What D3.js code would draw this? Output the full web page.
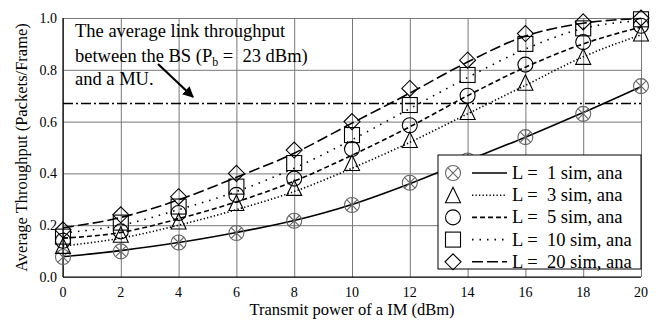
<!DOCTYPE html>
<html>
<head>
<meta charset="utf-8">
<script src="https://cdn.jsdelivr.net/npm/d3@7"></script>
</head>
<body style="margin:0; background:#fff">
<div id="chart"></div>
<script>
// transmit power of the IM (dBm)
const power = [0, 2, 4, 6, 8, 10, 12, 14, 16, 18, 20];
const yTicks = [0, 0.2, 0.4, 0.6, 0.8, 1.0];
const bsLevel = 0.67;

// simulated throughput (markers)
const simL1 = [0.077, 0.099, 0.133, 0.17, 0.217, 0.278, 0.364, 0.45, 0.54, 0.63, 0.737];
const simL3 = [0.12, 0.163, 0.214, 0.286, 0.344, 0.44, 0.529, 0.637, 0.75, 0.85, 0.94];
const simL5 = [0.14, 0.176, 0.247, 0.317, 0.38, 0.494, 0.586, 0.70, 0.82, 0.907, 0.97];
const simL10 = [0.156, 0.21, 0.272, 0.349, 0.44, 0.548, 0.664, 0.78, 0.90, 0.96, 0.995];
const simL20 = [0.182, 0.24, 0.31, 0.40, 0.49, 0.60, 0.728, 0.837, 0.94, 0.985, 1.0];

// analytical throughput (lines)
const anaL1 = [0.078, 0.102, 0.133, 0.172, 0.218, 0.28, 0.36, 0.45, 0.54, 0.635, 0.735];
const anaL3 = [0.12, 0.15, 0.2, 0.26, 0.33, 0.42, 0.52, 0.63, 0.74, 0.85, 0.935];
const anaL5 = [0.15, 0.172, 0.225, 0.29, 0.37, 0.47, 0.58, 0.70, 0.81, 0.90, 0.965];
const anaL10 = [0.17, 0.2, 0.26, 0.33, 0.42, 0.53, 0.65, 0.77, 0.88, 0.96, 0.99];
const anaL20 = [0.19, 0.23, 0.298, 0.385, 0.478, 0.594, 0.71, 0.83, 0.93, 0.98, 0.998];

const labels = ['1', '3', '5', '10', '20'];

const series = [
  { sim: simL1, ana: anaL1, marker: 'ox', dash: null },
  { sim: simL3, ana: anaL3, marker: 'tri', dash: '1.3,2.2' },
  { sim: simL5, ana: anaL5, marker: 'circ', dash: '5,3' },
  { sim: simL10, ana: anaL10, marker: 'sq', dash: '1.5,6' },
  { sim: simL20, ana: anaL20, marker: 'dia', dash: '11,4' }
];

const FONT = 'Liberation Serif';
const W = 661, H = 321;
const svg = d3.select('#chart').append('svg')
  .attr('width', W).attr('height', H)
  .attr('font-family', FONT);

const x = d3.scaleLinear().domain([0, 20]).range([63, 641]);
const y = d3.scaleLinear().domain([0, 1]).range([277, 18]);

// grid
svg.append('g')
  .attr('transform', 'translate(0,' + y(0) + ')')
  .call(d3.axisBottom(x).tickValues(power).tickSize(-(y(0) - y(1))).tickFormat(''))
  .call(g => g.select('.domain').remove())
  .selectAll('line').attr('stroke', '#777').attr('stroke-width', 1);

svg.append('g')
  .attr('transform', 'translate(' + x(0) + ',0)')
  .call(d3.axisLeft(y).tickValues(yTicks).tickSize(-(x(20) - x(0))).tickFormat(''))
  .call(g => g.select('.domain').remove())
  .selectAll('line').attr('stroke', '#777').attr('stroke-width', 1);

// axes lines
svg.append('line').attr('x1', x(0)).attr('x2', x(0)).attr('y1', y(1)).attr('y2', y(0))
  .attr('stroke', '#000').attr('stroke-width', 1.2);
svg.append('line').attr('x1', x(0)).attr('x2', x(20)).attr('y1', y(0)).attr('y2', y(0))
  .attr('stroke', '#000').attr('stroke-width', 1.2);

// tick labels
svg.append('g').selectAll('text').data(power).enter().append('text')
  .attr('x', d => x(d)).attr('y', 297)
  .attr('text-anchor', 'middle').attr('font-family', FONT).attr('font-size', 14)
  .text(d => d);

svg.append('g').selectAll('text').data(yTicks).enter().append('text')
  .attr('x', 57).attr('y', d => y(d) + 5)
  .attr('text-anchor', 'end').attr('font-family', FONT).attr('font-size', 14)
  .text(d => d.toFixed(1));

// axis titles
svg.append('text').attr('x', (x(0) + x(20)) / 2).attr('y', 315)
  .attr('text-anchor', 'middle').attr('font-family', FONT).attr('font-size', 16.5)
  .text('Transmit power of a IM (dBm)');

svg.append('text')
  .attr('transform', 'translate(27,' + (y(0) + y(1)) / 2 + ')rotate(-90)')
  .attr('text-anchor', 'middle').attr('font-family', FONT).attr('font-size', 16.5)
  .text('Average Throughput (Packets/Frame)');

// BS reference line
svg.append('line').attr('x1', x(0)).attr('x2', x(20))
  .attr('y1', y(bsLevel)).attr('y2', y(bsLevel))
  .attr('stroke', '#000').attr('stroke-width', 1.5)
  .attr('stroke-dasharray', '10,3,2,3');

// analytical curves
const line = d3.line()
  .x((d, i) => x(power[i]))
  .y(d => y(d))
  .curve(d3.curveMonotoneX);

series.forEach(s => {
  svg.append('path').datum(s.ana)
    .attr('d', line)
    .attr('fill', 'none')
    .attr('stroke', '#000')
    .attr('stroke-width', 1.6)
    .attr('stroke-dasharray', s.dash);
});

// markers
function drawMarker(g, type, cx, cy, spoke) {
  const m = g.append('g').attr('transform', 'translate(' + cx + ',' + cy + ')')
    .attr('fill', 'none').attr('stroke', '#000').attr('stroke-width', 1.1);
  if (type === 'ox') {
    m.attr('stroke', '#666');
    m.append('circle').attr('r', 7.5);
    m.append('path').attr('d', 'M-5.3,-5.3L5.3,5.3M-5.3,5.3L5.3,-5.3' + (spoke ? 'M0,-7.5L0,7.5' : ''));
  } else if (type === 'tri') {
    m.append('path').attr('d', 'M0,-8L7.5,7.5L-7.5,7.5Z');
  } else if (type === 'circ') {
    m.append('circle').attr('r', 7.5);
  } else if (type === 'sq') {
    m.append('rect').attr('x', -7.5).attr('y', -7.5).attr('width', 15).attr('height', 15);
  } else if (type === 'dia') {
    m.append('path').attr('d', 'M0,-8L8,0L0,8L-8,0Z');
  }
}

const markG = svg.append('g');
series.forEach(s => {
  s.sim.forEach((v, i) => drawMarker(markG, s.marker, x(power[i]), y(v), true));
});

// annotation
const note = svg.append('g').attr('font-family', FONT).attr('font-size', 18.5);
note.append('text').attr('x', 75).attr('y', 37).text('The average link throughput');
const t2 = note.append('text').attr('x', 75).attr('y', 62).attr('xml:space', 'preserve');
t2.append('tspan').text('between the BS (P');
t2.append('tspan').attr('dy', 4).attr('font-size', 12).text('b');
t2.append('tspan').attr('dy', -4).text(' =  23 dBm)');
note.append('text').attr('x', 75).attr('y', 85).text('and a MU.');

svg.append('defs').append('marker')
  .attr('id', 'arrow').attr('viewBox', '0 0 10 10')
  .attr('refX', 9).attr('refY', 5)
  .attr('markerWidth', 5).attr('markerHeight', 5)
  .attr('markerUnits', 'strokeWidth')
  .attr('orient', 'auto')
  .append('path').attr('d', 'M0,0L10,5L0,10Z').attr('fill', '#000');

svg.append('line').attr('x1', 158).attr('y1', 64).attr('x2', 193).attr('y2', 97)
  .attr('stroke', '#000').attr('stroke-width', 2.2)
  .attr('marker-end', 'url(#arrow)');

// legend
const lg = svg.append('g');
lg.append('rect').attr('x', 438).attr('y', 155).attr('width', 203).attr('height', 114)
  .attr('fill', '#fff').attr('stroke', '#000').attr('stroke-width', 1);

series.forEach((s, i) => {
  const cy = 173 + i * 22.2;
  drawMarker(lg, s.marker, 453, cy, false);
  lg.append('line').attr('x1', 472).attr('x2', 507).attr('y1', cy).attr('y2', cy)
    .attr('stroke', '#000').attr('stroke-width', 1.6)
    .attr('stroke-dasharray', s.dash);
  lg.append('text').attr('x', 512).attr('y', cy + 6)
    .attr('xml:space', 'preserve').attr('font-family', FONT).attr('font-size', 18.5)
    .text('L =  ' + labels[i] + ' sim, ana');
});
</script>
</body>
</html>
